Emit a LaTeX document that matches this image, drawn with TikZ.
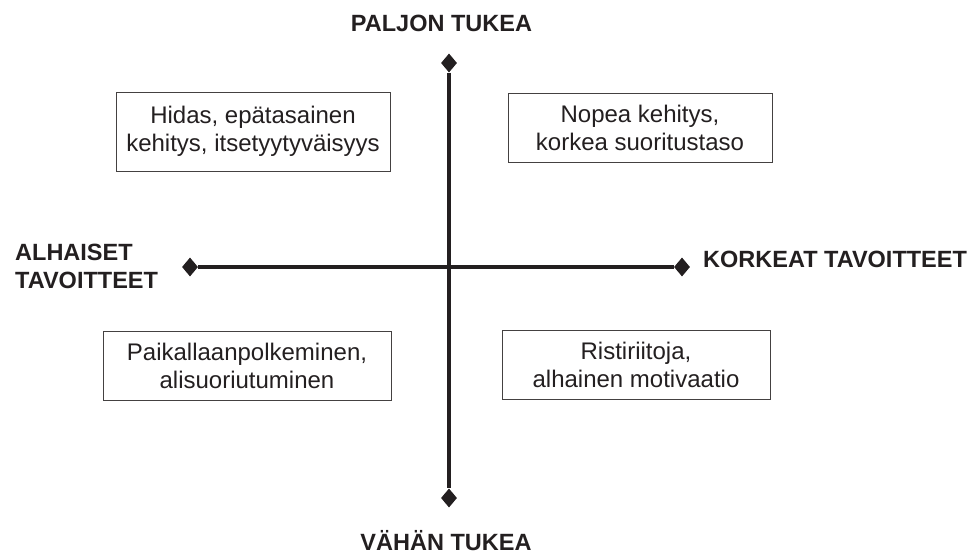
\documentclass[tikz,border=0pt]{standalone}
\usepackage{fontspec}
\setmainfont{Liberation Sans}
\usetikzlibrary{shapes.geometric}
\definecolor{ink}{HTML}{231F20}
\tikzset{
  quad/.style={draw=ink!85, line width=0.9pt, align=center, inner sep=0pt,
    text=ink, font=\fontsize{24}{28}\selectfont},
  axislabel/.style={inner sep=0pt, text=ink, font=\fontsize{23.5}{28}\selectfont\bfseries},
  tipmark/.style={shape=diamond, fill=ink, draw=none, inner sep=0pt,
    minimum width=16pt, minimum height=19pt},
  axisline/.style={draw=ink, line width=3.2pt}
}
\begin{document}
\begin{tikzpicture}[x=1pt,y=-1pt]
\useasboundingbox (0,0) rectangle (971,556);
% axis end marks
\node[tipmark] (top) at (449,63) {};
\node[tipmark] (bot) at (449,498) {};
\node[tipmark] (lft) at (190,267) {};
\node[tipmark] (rgt) at (682,267) {};
\draw[axisline] (top) -- (bot);
\draw[axisline] (lft) -- (rgt);
% quadrant boxes
\node[quad, minimum width=274pt, minimum height=79pt] (tl) at (253,131.5)
  {Hidas, epätasainen\\kehitys, itsetyytyväisyys};
\node[quad, minimum width=264pt, minimum height=69pt] (tr) at (640,127.5)
  {Nopea kehitys,\\korkea suoritustaso};
\node[quad, minimum width=288pt, minimum height=69pt] (bl) at (247,365.5)
  {Paikallaanpolkeminen,\\alisuoriutuminen};
\node[quad, minimum width=268pt, minimum height=69pt] (br) at (636,364.5)
  {Ristiriitoja,\\alhainen motivaatio};
% axis labels
\node[axislabel, anchor=base] (ptuki) at (441.5,32) {PALJON TUKEA};
\node[axislabel, anchor=base] (vtuki) at (446,550) {VÄHÄN TUKEA};
\node[axislabel, anchor=base west] (ktav) at (703,267) {KORKEAT TAVOITTEET};
\node[axislabel, anchor=north west, align=left] (atav) at (15,244) {ALHAISET\\TAVOITTEET};
\end{tikzpicture}
\end{document}
